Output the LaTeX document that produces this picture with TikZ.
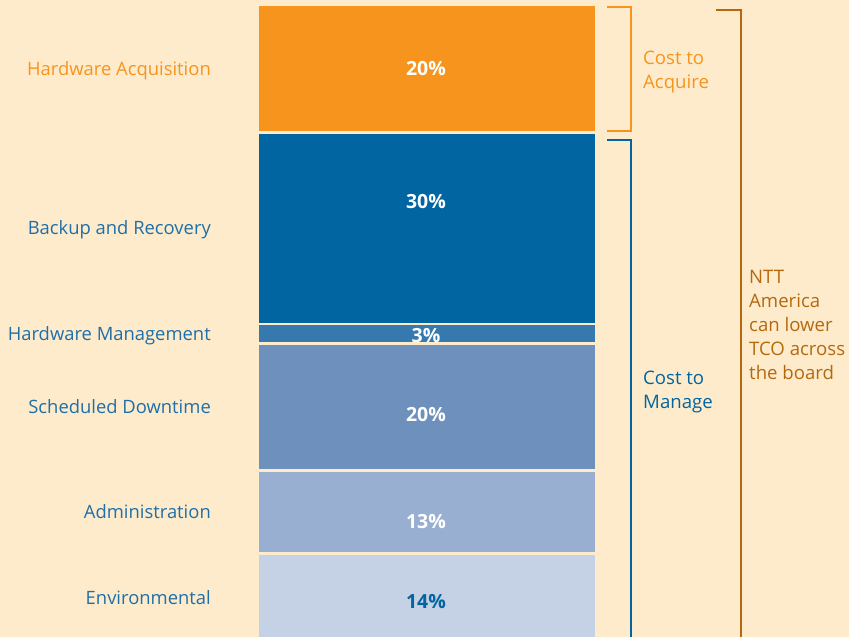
\documentclass[tikz,border=0pt]{standalone}
\usepackage{fontspec}
\setmainfont{Open Sans}
\definecolor{bg}{HTML}{FEEBCB}
\definecolor{acq}{HTML}{F7941D}
\definecolor{dblue}{HTML}{0065A0}
\definecolor{mblue}{HTML}{3579AE}
\definecolor{sblue}{HTML}{6E90BC}
\definecolor{lblue}{HTML}{99AFD1}
\definecolor{pblue}{HTML}{C5D1E5}
\definecolor{tblue}{HTML}{1F6FA8}
\definecolor{brown}{HTML}{B5690F}
\begin{document}
\begin{tikzpicture}[x=1pt,y=-1pt,
  pct/.style={font=\fontsize{19.5}{22}\selectfont\bfseries,text=white,anchor=base,inner sep=0pt},
  lab/.style={font=\fontsize{18.4}{22}\selectfont,anchor=base east,text=tblue,inner sep=0pt},
  side/.style={font=\fontsize{18.6}{24}\selectfont,anchor=west,align=left,inner sep=0pt}]
\fill[bg] (0,0) rectangle (849,637);
\useasboundingbox (0,0) rectangle (849,637);
% bars
\fill[acq] (259,6) rectangle (595,131);
\fill[dblue] (259,134) rectangle (595,323);
\fill[mblue] (259,325) rectangle (595,342);
\fill[sblue] (259,345) rectangle (595,469);
\fill[lblue] (259,472) rectangle (595,552);
\fill[pblue] (259,555) rectangle (595,637);
% percentages
\node[pct] (p1) at (426,75.5) {20\%};
\node[pct] (p2) at (426,208.5) {30\%};
\node[pct] (p3) at (426,342.5) {3\%};
\node[pct] (p4) at (426,421.5) {20\%};
\node[pct] (p5) at (426,528.5) {13\%};
\node[pct,text=dblue] (p6) at (426,608.5) {14\%};
% labels
\node[lab,text=acq] (l1) at (211,75) {Hardware Acquisition};
\node[lab] (l2) at (211,234) {Backup and Recovery};
\node[lab] (l3) at (211,340) {Hardware Management};
\node[lab] (l4) at (211,413) {Scheduled Downtime};
\node[lab] (l5) at (211,518) {Administration};
\node[lab] (l6) at (211,604) {Environmental};
% brackets
\draw[line width=2pt,draw=acq] (607,7) -- (631,7) -- (631,131) -- (607,131);
\draw[line width=2pt,draw=dblue] (607,140) -- (631,140) -- (631,640);
\draw[line width=2pt,draw=brown] (716,10) -- (741,10) -- (741,640);
% side texts
\node[side,text=acq] (c1) at (643,72) {Cost to\\Acquire};
\node[side,text=dblue] (c2) at (643,392) {Cost to\\Manage};
\node[side,text=brown] (c3) at (749,325) {NTT\\America\\can lower\\TCO across\\the board};
\end{tikzpicture}
\end{document}
